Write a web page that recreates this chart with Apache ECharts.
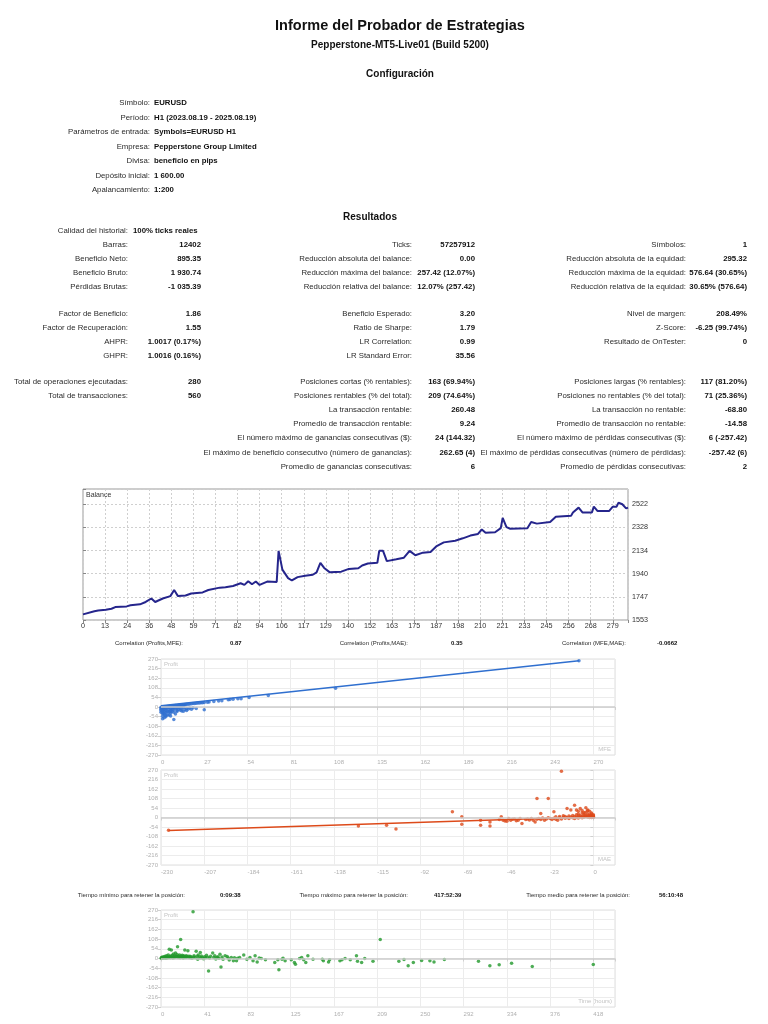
<!DOCTYPE html>
<html><head><meta charset="utf-8">
<script src="https://cdn.jsdelivr.net/npm/echarts@6/dist/echarts.min.js"></script>
<style>
html,body{margin:0;padding:0;background:#fff;}
#page{position:relative;width:768px;height:1024px;overflow:hidden;font-family:'Liberation Sans',Arial,sans-serif;color:#2a2a2a;background:#fff;}
#chart{position:absolute;left:0;top:0;width:768px;height:1024px;}
.t{position:absolute;white-space:nowrap;}
.b{font-weight:bold;color:#111;}
</style></head><body><div id="page"><div id="chart"></div></div>
<script>
// ---------- DATA ----------
const titleMain = 'Informe del Probador de Estrategias';
const titleSub = 'Pepperstone-MT5-Live01 (Build 5200)';
const sectionConfig = 'Configuración';
const sectionResults = 'Resultados';

const configLabels = ['Símbolo:', 'Período:', 'Parámetros de entrada:', 'Empresa:', 'Divisa:', 'Depósito inicial:', 'Apalancamiento:'];
const configValues = ['EURUSD', 'H1 (2023.08.19 - 2025.08.19)', 'Symbols=EURUSD H1', 'Pepperstone Group Limited', 'beneficio en pips', '1 600.00', '1:200'];

const qualityRow = ['Calidad del historial:', '100% ticks reales'];

const blockA1 = [['Barras:', '12402'], ['Beneficio Neto:', '895.35'], ['Beneficio Bruto:', '1 930.74'], ['Pérdidas Brutas:', '-1 035.39']];
const blockA2 = [['Ticks:', '57257912'], ['Reducción absoluta del balance:', '0.00'], ['Reducción máxima del balance:', '257.42 (12.07%)'], ['Reducción relativa del balance:', '12.07% (257.42)']];
const blockA3 = [['Símbolos:', '1'], ['Reducción absoluta de la equidad:', '295.32'], ['Reducción máxima de la equidad:', '576.64 (30.65%)'], ['Reducción relativa de la equidad:', '30.65% (576.64)']];

const blockB1 = [['Factor de Beneficio:', '1.86'], ['Factor de Recuperación:', '1.55'], ['AHPR:', '1.0017 (0.17%)'], ['GHPR:', '1.0016 (0.16%)']];
const blockB2 = [['Beneficio Esperado:', '3.20'], ['Ratio de Sharpe:', '1.79'], ['LR Correlation:', '0.99'], ['LR Standard Error:', '35.56']];
const blockB3 = [['Nivel de margen:', '208.49%'], ['Z-Score:', '-6.25 (99.74%)'], ['Resultado de OnTester:', '0']];

const blockC1 = [['Total de operaciones ejecutadas:', '280'], ['Total de transacciones:', '560']];
const blockC2 = [['Posiciones cortas (% rentables):', '163 (69.94%)'], ['Posiciones rentables (% del total):', '209 (74.64%)'], ['La transacción rentable:', '260.48'], ['Promedio de transacción rentable:', '9.24'], ['El número máximo de ganancias consecutivas ($):', '24 (144.32)'], ['El máximo de beneficio consecutivo (número de ganancias):', '262.65 (4)'], ['Promedio de ganancias consecutivas:', '6']];
const blockC3 = [['Posiciones largas (% rentables):', '117 (81.20%)'], ['Posiciones no rentables (% del total):', '71 (25.36%)'], ['La transacción no rentable:', '-68.80'], ['Promedio de transacción no rentable:', '-14.58'], ['El número máximo de pérdidas consecutivas ($):', '6 (-257.42)'], ['El máximo de pérdidas consecutivas (número de pérdidas):', '-257.42 (6)'], ['Promedio de pérdidas consecutivas:', '2']];

const correlationRow = [['Correlation (Profits,MFE):', '0.87'], ['Correlation (Profits,MAE):', '0.35'], ['Correlation (MFE,MAE):', '-0.0662']];
const holdTimeRow = [['Tiempo mínimo para retener la posición:', '0:09:38'], ['Tiempo máximo para retener la posición:', '417:52:39'], ['Tiempo medio para retener la posición:', '56:10:48']];

// Balance curve (trade number, balance)
const balTrade = [0,6,8,12,15,17,23,25,30,33,36,38,42,46,48,50,54,57,63,66,72,75,79,83,85,87,89,91,93,97,102,103,105,108,110,113,117,121,123,125,127,130,136,140,145,147,150,155,156,158,160,161,165,169,172,175,179,183,186,190,196,200,204,208,210,212,217,220,221,223,225,234,236,239,246,249,257,258,261,263,268,269,271,277,279,281,282,284,286,287];
const balValue = [1600,1627,1633,1638,1647,1661,1667,1676,1684,1704,1733,1704,1733,1753,1804,1753,1758,1775,1784,1804,1824,1827,1838,1861,1847,1878,1852,1875,1847,1875,1872,2132,1975,1904,1884,1912,1924,1932,1952,2032,1989,1952,1958,1981,1986,2009,2026,2032,2132,2132,2046,2038,2061,2075,2132,2095,2117,2123,2169,2203,2217,2237,2260,2274,2311,2283,2288,2322,2408,2331,2317,2322,2374,2360,2374,2417,2425,2454,2494,2454,2454,2502,2465,2465,2502,2502,2536,2522,2488,2494];
const balXTickLabels = ['0','13','24','36','48','59','71','82','94','106','117','129','140','152','163','175','187','198','210','221','233','245','256','268','279'];
const balYTickLabels = ['1553','1747','1940','2134','2328','2522'];

// MFE vs Profit
const mfePoints = [[261,260],[109,106],[67,64],[55,54],[50,47],[48,46],[45,43],[43,42],[42,41],[38,35],[36,34],[33,31],[30,28],[29,27],[27,26],[26,24],[25,24],[24,22],[23,22],[22,21],[21,20],[20,19],[19,18],[18,17],[17,16],[16,15],[15,14],[14,13],[13,12],[12,11],[11,10],[10,9],[9,8],[8,7],
 [0,-5],[0,-12],[1,-8],[1,-20],[1,-30],[1,-38],[1,-66],[2,-3],[2,-15],[2,-25],[2,-42],[3,-10],[3,-18],[3,-33],[3,2],[4,-6],[4,-22],[4,-45],[4,3],[5,-2],[5,-14],[5,-28],[5,4],[6,-8],[6,-19],[6,5],[6,-35],[7,-4],[7,-12],[7,6],[7,-24],[8,-70],[8,-3],[8,-16],[9,-9],[9,2],[9,-40],[10,-5],[10,-20],[11,-2],[11,-12],[12,-18],[12,-6],[13,-22],[13,-10],[14,-24],[14,-3],[15,-14],[16,-20],[16,-8],[17,-11],[18,-6],[19,-13],[20,-4],[22,-9],[27,-15],[5,-45],[6,-50],[3,-55],[2,-60],[1,-10],[0,-1],[0,-20],[0,-30],[1,0],[2,1],[3,-1],[4,0],[5,1],[6,0],[7,2],[8,1],[9,-1],[10,3],[11,4],[12,5],[13,6],[12,8],[14,10],[15,11],[11,9],[9,6],[7,5],[2,-35],[4,-28],[6,-26],[8,-30],[10,-25],[3,-48],[1,-52]];
const mfeTrend = [[0,7],[261,260]];
const mfeXTickLabels = ['0','27','54','81','108','135','162','189','216','243','270'];

// MAE vs Profit
const maePoints = [[-226,-72],[-125,-49],[-110,-44],[-105,-66],[-75,32],[-70,4],[-70,-38],[-60,-44],[-60,-15],[-55,-25],[-55,-49],[-30,108],[-24,108],[-17,263],
 [-50,-11],[-49,4],[-48,-15],[-47,-20],[-46,-21],[-45,-6],[-44,-15],[-43,-10],[-42,-9],[-41,-18],[-40,-15],[-39,-6],[-38,-34],[-36,-12],[-35,-8],[-34,-14],[-33,-5],[-32,-15],[-31,-25],[-30,-10],[-29,-6],[-28,23],[-28,-12],[-27,-3],[-26,-15],[-25,-8],[-24,-2],[-23,-6],[-22,-12],[-21,32],[-21,-4],[-20,4],[-20,-10],[-19,-15],[-18,-2],[-18,5],[-17,-8],[-16,2],[-16,10],[-15,-4],[-15,6],[-14,51],[-14,0],[-13,-6],[-13,8],[-12,42],[-12,3],[-11,-2],[-11,12],[-10,70],[-10,5],[-10,-5],[-9,42],[-9,0],[-9,15],[-8,8],[-8,-3],[-8,20],[-7,51],[-7,3],[-7,12],[-6,-1],[-6,6],[-6,25],[-5,10],[-5,2],[-5,18],[-4,55],[-4,5],[-4,12],[-4,30],[-3,42],[-3,8],[-3,2],[-3,20],[-2,5],[-2,15],[-2,10],[-2,0],[-1,3],[-1,8],[-1,12],[-1,20],[-1,0],[0,2],[0,5],[0,8],[0,10],[0,15],[0,1],[-2,35],[-3,38],[-1,25],[-5,28],[-6,40],[-8,35]];
const maeTrend = [[-226,-74],[0,4]];
const maeXTickLabels = ['-230','-207','-184','-161','-138','-115','-92','-69','-46','-23','0'];

// Holding time (hours) vs Profit
const timePoints = [[0.2,2],[0.5,5],[1,3],[1.5,8],[2,1],[2.5,6],[3,10],[3.5,4],[4,12],[4.5,2],[5,7],[5.5,15],[6,3],[6.5,9],[7,20],[7.5,5],[8,52],[8.5,11],[9,4],[9.5,14],[10,48],[10.5,8],[11,18],[11.5,3],[12,25],[12.5,10],[13,6],[13.5,16],[14,30],[14.5,8],[15,12],[15.5,22],[16,65],[16.5,5],[17,14],[17.5,9],[18,20],[18.5,4],[19,106],[19.5,12],[20,7],[20.5,18],[21,10],[21.5,3],[22,15],[22.5,8],[23,48],[23.5,11],[24,5],[24.5,16],[25,9],[26,43],[26.5,13],[27,6],[28,12],[28.5,4],[29,10],[30,2],[31,260],[31.5,8],[32,15],[33,5],[34,41],[35,12],[35.5,-4],[36,20],[37,8],[38,34],[38.5,3],[39,14],[40,6],[41,-2],[42,10],[43,4],[44,18],[45,7],[46,-69],[47,3],[48,12],[50,30],[51,5],[52,15],[53,-3],[54,6],[55,10],[56,2],[57,24],[58,-47],[59,8],[60,-4],[62,15],[64,11],[65,3],[66,-8],[68,6],[70,-13],[71,4],[73,-13],[74,2],[76,6],[80,19],[83,-4],[86,6],[89,-13],[91,15],[93,-19],[95,3],[97,0],[101,-7],[110,-22],[113,-7],[114,-63],[117,-4],[118,2],[120,-13],[126,-7],[129,-22],[130,-32],[134,0],[136,6],[138,-7],[140,-22],[142,15],[147,-4],[156,-4],[157,-12],[162,-19],[163,-7],[173,-13],[175,-7],[178,0],[183,-7],[189,15],[190,-15],[194,-22],[197,0],[205,-15],[212,106],[230,-15],[235,-6],[239,-41],[244,-22],[252,-11],[260,-13],[264,-19],[274,-6],[307,-15],[318,-41],[327,-35],[339,-26],[359,-45],[418,-34]];
const timeXTickLabels = ['0','41','83','125','167','209','250','292','334','376','418'];

// ---------- TEXT LAYOUT ----------
const page = document.getElementById('page');
function put(text, x, y, align, bold, size, color) {
  const d = document.createElement('div');
  d.className = 't' + (bold ? ' b' : '');
  d.textContent = text;
  const s = size || 7.8;
  const lh = Math.round(s * 1.3);
  d.style.fontSize = s + 'px';
  d.style.lineHeight = lh + 'px';
  d.style.top = (y - lh / 2) + 'px';
  if (color) d.style.color = color;
  if (align === 'right') { d.style.right = (768 - x) + 'px'; }
  else if (align === 'center') { d.style.left = (x - 300) + 'px'; d.style.width = '600px'; d.style.textAlign = 'center'; }
  else { d.style.left = x + 'px'; }
  d.style.zIndex = 5;
  page.appendChild(d);
}
put(titleMain, 400, 25, 'center', true, 14.5);
put(titleSub, 400, 44, 'center', true, 10);
put(sectionConfig, 400, 73, 'center', true, 10);
const cfgY = [103, 118, 132, 147, 161, 176, 190];
configLabels.forEach((l, i) => { put(l, 150, cfgY[i], 'right'); put(configValues[i], 154, cfgY[i], 'left', true); });
put(sectionResults, 370, 216, 'center', true, 10);
put(qualityRow[0], 128, 231, 'right'); put(qualityRow[1], 133, 231, 'left', true);

function block(rows, ys, labelRight, valueRight) {
  rows.forEach((r, i) => { put(r[0], labelRight, ys[i], 'right'); put(r[1], valueRight, ys[i], 'right', true); });
}
const yA = [245, 259, 273, 287], yB = [314, 328, 342, 356], yC = [382, 396, 410, 424, 438, 453, 467];
block(blockA1, yA, 128, 201); block(blockA2, yA, 412, 475); block(blockA3, yA, 686, 747);
block(blockB1, yB, 128, 201); block(blockB2, yB, 412, 475); block(blockB3, yB, 686, 747);
block(blockC1, yC, 128, 201); block(blockC2, yC, 412, 475); block(blockC3, yC, 686, 747);

const corrLabelRight = [183, 408, 626], corrValueLeft = [230, 451, 657];
correlationRow.forEach((r, i) => { put(r[0], corrLabelRight[i], 643, 'right', false, 6); put(r[1], corrValueLeft[i], 643, 'left', true, 6); });
const timeLabelRight = [185, 408, 630], timeValueLeft = [220, 434, 659];
holdTimeRow.forEach((r, i) => { put(r[0], timeLabelRight[i], 895, 'right', false, 6); put(r[1], timeValueLeft[i], 895, 'left', true, 6); });

// ---------- CHARTS ----------
const chart = echarts.init(document.getElementById('chart'), null, { renderer: 'canvas', width: 768, height: 1024 });
const font = 'Liberation Sans';
const scGrid = { show: true, borderColor: '#dedede', borderWidth: 1, backgroundColor: '#fff' };
function scX(gi, min, max, interval, labels) {
  return { type: 'value', gridIndex: gi, min, max, interval,
    axisLine: { show: false }, axisTick: { show: true, length: 3, lineStyle: { color: '#d0d0d0' } },
    axisLabel: { fontSize: 6, color: '#b0b0b0', align: 'left', margin: 4, fontFamily: font, formatter: (v, i) => labels[i] ?? '' },
    splitLine: { show: true, lineStyle: { color: '#ececec', width: 1 } } };
}
function scY(gi) {
  return { type: 'value', gridIndex: gi, min: -270, max: 270, interval: 54,
    axisLine: { show: false }, axisTick: { show: true, length: 3, lineStyle: { color: '#d0d0d0' } },
    axisLabel: { fontSize: 6, color: '#b0b0b0', margin: 3, fontFamily: font },
    splitLine: { show: true, lineStyle: { color: '#ececec', width: 1 } } };
}
const zeroLine = { silent: true, symbol: 'none', label: { show: false }, lineStyle: { color: '#cccccc', width: 1.5, type: 'solid' }, data: [{ yAxis: 0 }], animation: false };

const option = {
  animation: false,
  textStyle: { fontFamily: font },
  grid: [
    { left: 83, top: 489, width: 545, height: 131, show: true, borderColor: '#9a9a9a', borderWidth: 1, backgroundColor: '#fff' },
    Object.assign({ left: 161, top: 659, width: 454, height: 96 }, scGrid),
    Object.assign({ left: 161, top: 770, width: 454, height: 95 }, scGrid),
    Object.assign({ left: 161, top: 910, width: 454, height: 97 }, scGrid)
  ],
  xAxis: [
    { type: 'value', gridIndex: 0, min: 0, max: 287, interval: 11.625,
      axisLine: { show: false }, axisTick: { show: true, length: 3, lineStyle: { color: '#888' } },
      axisLabel: { fontSize: 7.2, color: '#333', margin: 3, fontFamily: font, formatter: (v, i) => balXTickLabels[i] ?? '' },
      splitLine: { show: true, lineStyle: { color: '#cfcfcf', type: [2, 2], width: 1 } } },
    scX(1, 0, 283.5, 27, mfeXTickLabels),
    scX(2, -230, 11.5, 23, maeXTickLabels),
    scX(3, 0, 439, 41.8, timeXTickLabels)
  ],
  yAxis: [
    { type: 'value', gridIndex: 0, position: 'right', min: 1553, max: 2650, interval: 193.8,
      axisLine: { show: false }, axisTick: { show: true, length: 3, lineStyle: { color: '#888' } },
      axisLabel: { fontSize: 7.2, color: '#333', margin: 4, fontFamily: font, formatter: (v, i) => balYTickLabels[i] ?? '' },
      splitLine: { show: true, lineStyle: { color: '#cfcfcf', type: [2, 2], width: 1 } } },
    scY(1), scY(2), scY(3)
  ],
  graphic: [
    { type: 'text', left: 86, top: 492, style: { text: 'Balance', fontSize: 7, fill: '#333', fontFamily: font } },
    { type: 'text', left: 164, top: 661, style: { text: 'Profit', fontSize: 6, fill: '#c4c4c4', fontFamily: font } },
    { type: 'text', right: 157, top: 746, style: { text: 'MFE', fontSize: 6, fill: '#c4c4c4', fontFamily: font } },
    { type: 'text', left: 164, top: 772, style: { text: 'Profit', fontSize: 6, fill: '#c4c4c4', fontFamily: font } },
    { type: 'text', right: 157, top: 856, style: { text: 'MAE', fontSize: 6, fill: '#c4c4c4', fontFamily: font } },
    { type: 'text', left: 164, top: 912, style: { text: 'Profit', fontSize: 6, fill: '#c4c4c4', fontFamily: font } },
    { type: 'text', right: 156, top: 998, style: { text: 'Time (hours)', fontSize: 6, fill: '#c4c4c4', fontFamily: font } }
  ],
  series: [
    { type: 'line', xAxisIndex: 0, yAxisIndex: 0, data: balTrade.map((t, i) => [t, balValue[i]]), symbol: 'none', lineStyle: { color: '#25258c', width: 2 }, z: 3 },
    { type: 'scatter', xAxisIndex: 1, yAxisIndex: 1, data: mfePoints, symbolSize: 3.5, itemStyle: { color: '#2f6fcf' }, markLine: zeroLine, z: 3 },
    { type: 'line', xAxisIndex: 1, yAxisIndex: 1, data: mfeTrend, symbol: 'none', lineStyle: { color: '#2f6fcf', width: 1.5 }, z: 4 },
    { type: 'scatter', xAxisIndex: 2, yAxisIndex: 2, data: maePoints, symbolSize: 3.5, itemStyle: { color: '#dd4a1a' }, markLine: zeroLine, z: 3 },
    { type: 'line', xAxisIndex: 2, yAxisIndex: 2, data: maeTrend, symbol: 'none', lineStyle: { color: '#dd4a1a', width: 1.5 }, z: 4 },
    { type: 'scatter', xAxisIndex: 3, yAxisIndex: 3, data: timePoints, symbolSize: 3.5, itemStyle: { color: '#22992c' }, markLine: zeroLine, z: 3 }
  ]
};
chart.setOption(option);
</script></body></html>
